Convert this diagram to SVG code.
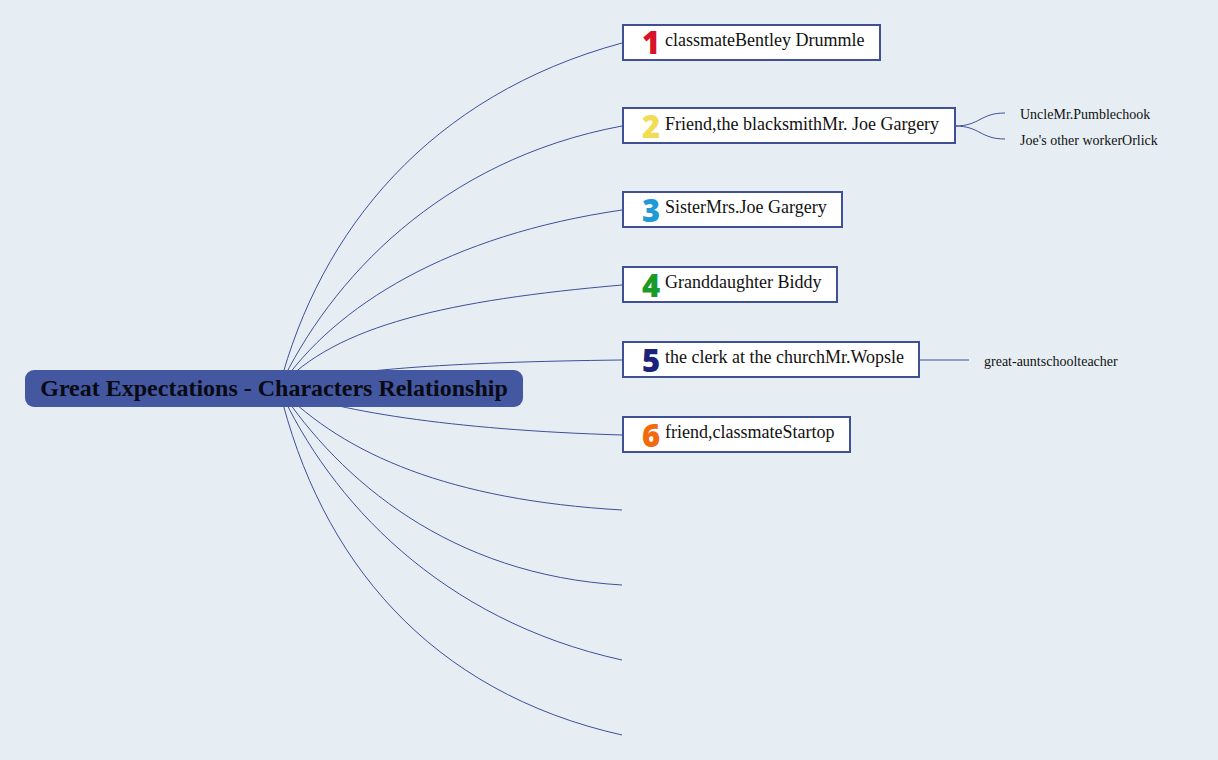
<svg xmlns="http://www.w3.org/2000/svg" width="1218" height="760" viewBox="0 0 1218 760">
<style>
.bg{fill:#e6eef4}
.con{fill:none;stroke:#3d4f9a;stroke-width:1}
.box{fill:#ffffff;stroke:#3f5194;stroke-width:2}
.lbl{font-family:"Liberation Serif","Times New Roman",serif;font-size:18px;fill:#111}
.sub{font-family:"Liberation Serif","Times New Roman",serif;font-size:14px;fill:#111}
.num{font-family:"Noto Sans","Open Sans",sans-serif;font-size:31px;font-weight:900;text-anchor:middle}
.root{fill:#4358a0}
.roottxt{font-family:"Liberation Serif","Times New Roman",serif;font-size:24px;font-weight:bold;fill:#0a0a14;text-anchor:middle}
</style>
<rect class="bg" x="0" y="0" width="1218" height="760"/>
<g id="connectors">
<path class="con" d="M279,388 C320,230 430,95 622,43"/>
<path class="con" d="M279,388 C330,280 440,160 622,126"/>
<path class="con" d="M279,388 C335,305 450,235 622,210"/>
<path class="con" d="M279,388 C335,325 450,300 622,285"/>
<path class="con" d="M279,388 C330,370 450,362 622,360"/>
<path class="con" d="M279,388 C330,410 450,430 622,435"/>
<path class="con" d="M279,388 C345,455 450,500 622,510"/>
<path class="con" d="M279,388 C340,480 450,575 622,585"/>
<path class="con" d="M279,388 C330,500 440,620 622,660"/>
<path class="con" d="M279,388 C320,560 430,692 622,735"/>
<path class="con" d="M955,126 C980,126 980,113 1005,113"/>
<path class="con" d="M955,126 C980,126 980,139 1005,139"/>
<path class="con" d="M919,360 L969,360"/>
</g>
<g id="root">
<rect class="root" x="25" y="370" width="498" height="37" rx="9"/>
<text class="roottxt" x="274" y="396">Great Expectations - Characters Relationship</text>
</g>
<g id="node1">
<rect class="box" x="623" y="25" width="257" height="35"/>
<text class="num" x="651" y="54" fill="#d9122b">1</text>
<text class="lbl" x="665" y="46">classmateBentley Drummle</text>
</g>
<g id="node2">
<rect class="box" x="623" y="108" width="332" height="35"/>
<text class="num" x="651" y="138" fill="#f2dc55">2</text>
<text class="lbl" x="665" y="130">Friend,the blacksmithMr. Joe Gargery</text>
</g>
<g id="node2a"><text class="sub" x="1020" y="119">UncleMr.Pumblechook</text></g>
<g id="node2b"><text class="sub" x="1020" y="145">Joe's other workerOrlick</text></g>
<g id="node3">
<rect class="box" x="623" y="192" width="219" height="35"/>
<text class="num" x="651" y="222" fill="#1e9ad6">3</text>
<text class="lbl" x="665" y="213">SisterMrs.Joe Gargery</text>
</g>
<g id="node4">
<rect class="box" x="623" y="267" width="214" height="35"/>
<text class="num" x="651" y="297" fill="#1a9a28">4</text>
<text class="lbl" x="665" y="288">Granddaughter Biddy</text>
</g>
<g id="node5">
<rect class="box" x="623" y="342" width="296" height="35"/>
<text class="num" x="651" y="372" fill="#1a2378">5</text>
<text class="lbl" x="665" y="363">the clerk at the churchMr.Wopsle</text>
</g>
<g id="node5a"><text class="sub" x="984" y="366">great-auntschoolteacher</text></g>
<g id="node6">
<rect class="box" x="623" y="417" width="227" height="35"/>
<text class="num" x="651" y="447" fill="#f26a0c">6</text>
<text class="lbl" x="665" y="438">friend,classmateStartop</text>
</g>
</svg>
